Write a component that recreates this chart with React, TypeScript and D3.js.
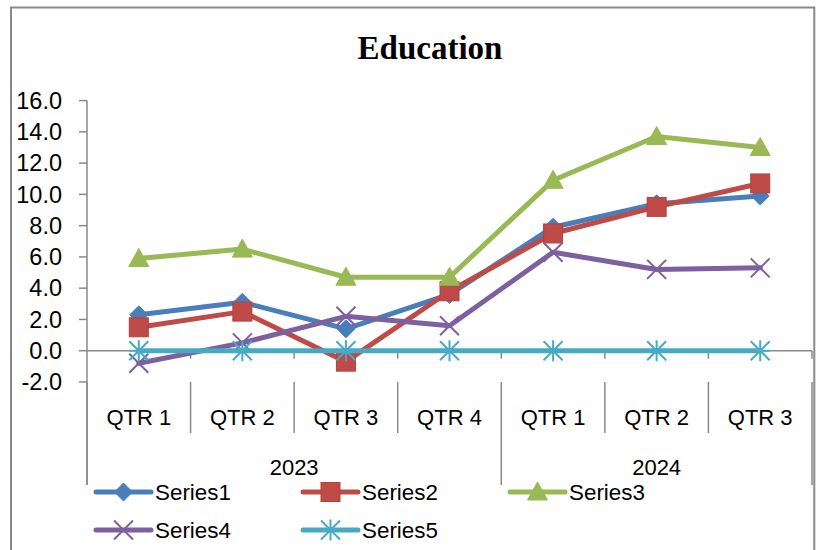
import React from "react";
import * as d3 from "d3";

const quarters = ["QTR 1", "QTR 2", "QTR 3", "QTR 4", "QTR 1", "QTR 2", "QTR 3"];
const years = ["2023", "2024"];
const yearSpans = [4, 3];
const yTicks = [-2, 0, 2, 4, 6, 8, 10, 12, 14, 16];

const series1 = [2.3, 3.1, 1.4, 3.6, 7.9, 9.4, 9.9];
const series2 = [1.5, 2.5, -0.7, 3.8, 7.5, 9.2, 10.7];
const series3 = [5.9, 6.5, 4.7, 4.7, 10.9, 13.7, 13.0];
const series4 = [-0.8, 0.5, 2.2, 1.6, 6.3, 5.2, 5.3];
const series5 = [0, 0, 0, 0, 0, 0, 0];

const seriesNames = ["Series1", "Series2", "Series3", "Series4", "Series5"];
const seriesData = [series1, series2, series3, series4, series5];
const colors = ["#4A7EBB", "#BE4B48", "#98B954", "#7D60A0", "#46AAC5"];
const markerTypes = ["diamond", "square", "triangle", "x", "star"];

const W = 817;
const H = 550;
const plotLeft = 87;
const plotRight = 812;
const axisGray = "#898989";
const FONT = "'Liberation Sans', Arial, sans-serif";

function Marker({ type, cx, cy, color }: { type: string; cx: number; cy: number; color: string }) {
  if (type === "diamond") {
    const r = 9;
    return <path d={`M${cx},${cy - r}L${cx + r},${cy}L${cx},${cy + r}L${cx - r},${cy}Z`} fill={color} stroke={color} strokeWidth={1} />;
  }
  if (type === "square") {
    const s = 9.5;
    return <rect x={cx - s} y={cy - s} width={2 * s} height={2 * s} fill={color} stroke="#B5413E" strokeWidth={1} />;
  }
  if (type === "triangle") {
    const hw = 10;
    return <path d={`M${cx},${cy - 10}L${cx + hw},${cy + 8}L${cx - hw},${cy + 8}Z`} fill={color} stroke={color} strokeWidth={1} />;
  }
  if (type === "x") {
    const r = 9.5;
    return (
      <path d={`M${cx - r},${cy - r}L${cx + r},${cy + r}M${cx - r},${cy + r}L${cx + r},${cy - r}`} stroke={color} strokeWidth={2} fill="none" />
    );
  }
  const r = 9.5;
  return (
    <path
      d={`M${cx - r},${cy - r}L${cx + r},${cy + r}M${cx - r},${cy + r}L${cx + r},${cy - r}M${cx},${cy - r * 1.1}L${cx},${cy + r * 1.1}M${cx - r},${cy}L${cx + r},${cy}`}
      stroke={color}
      strokeWidth={2}
      fill="none"
    />
  );
}

export default function App() {
  const idx = quarters.map((_, i) => String(i));
  const x = d3.scaleBand<string>().domain(idx).range([plotLeft, plotRight]).padding(0);
  const bw = x.bandwidth();
  const cx = (i: number) => (x(String(i)) as number) + bw / 2;
  const y = d3.scaleLinear().domain([-2, 16]).range([381.96, 100.6]);
  const line = d3
    .line<number>()
    .x((_, i) => cx(i))
    .y((d) => y(d));

  const boundaries = d3.range(quarters.length + 1).map((k) => plotLeft + k * bw);
  const groupStarts = [0];
  yearSpans.forEach((s, i) => groupStarts.push(groupStarts[i] + s));

  const legendItems = [
    { lx: 96, ly: 492 },
    { lx: 303, ly: 492 },
    { lx: 510, ly: 492 },
    { lx: 96, ly: 530 },
    { lx: 303, ly: 530 },
  ];

  return (
    <svg width={W} height={H} style={{ position: "absolute", left: 0, top: 0, background: "#fff" }}>
      <rect x={0} y={0} width={W} height={H} fill="#fff" />
      {/* chart border */}
      <path d={`M11,${H + 5}L11,7.5L814.3,7.5L814.3,${H + 5}`} fill="none" stroke={axisGray} strokeWidth={2} />

      {/* title */}
      <text x={430} y={59} textAnchor="middle" fontFamily="'Liberation Serif', 'Times New Roman', serif" fontWeight="bold" fontSize={33} fill="#000">
        Education
      </text>

      {/* y axis */}
      <line x1={plotLeft} x2={plotLeft} y1={y(16)} y2={485} stroke={axisGray} strokeWidth={1.5} />
      {yTicks.map((t) => (
        <g key={t}>
          <line x1={79} x2={plotLeft} y1={y(t)} y2={y(t)} stroke={axisGray} strokeWidth={1.5} />
          <text x={62} y={y(t) + 8.3} textAnchor="end" fontFamily={FONT} fontSize={23.5} fill="#000">
            {t.toFixed(1)}
          </text>
        </g>
      ))}

      {/* x axis at zero */}
      <line x1={plotLeft} x2={plotRight} y1={y(0)} y2={y(0)} stroke={axisGray} strokeWidth={1.5} />
      {boundaries.slice(1).map((bx, k) => (
        <line key={k} x1={bx} x2={bx} y1={y(0)} y2={y(0) + 8} stroke={axisGray} strokeWidth={1.5} />
      ))}

      {/* category label separators */}
      {boundaries.map((bx, k) => {
        const isGroup = groupStarts.includes(k);
        return <line key={k} x1={bx} x2={bx} y1={382} y2={isGroup ? 485 : 433} stroke={axisGray} strokeWidth={1.5} />;
      })}

      {quarters.map((q, i) => (
        <text key={i} x={cx(i)} y={425} textAnchor="middle" fontFamily={FONT} fontSize={22} fill="#000">
          {q}
        </text>
      ))}
      {years.map((yr, g) => {
        const start = boundaries[groupStarts[g]];
        const end = boundaries[groupStarts[g + 1]];
        return (
          <text key={yr} x={(start + end) / 2} y={475} textAnchor="middle" fontFamily={FONT} fontSize={22} fill="#000">
            {yr}
          </text>
        );
      })}

      {/* series */}
      {seriesData.map((data, s) => (
        <g key={s}>
          <path d={line(data) || ""} fill="none" stroke={colors[s]} strokeWidth={5} strokeLinejoin="round" strokeLinecap="round" />
          {data.map((v, i) => (
            <Marker key={i} type={markerTypes[s]} cx={cx(i)} cy={y(v)} color={colors[s]} />
          ))}
        </g>
      ))}

      {/* legend */}
      {legendItems.map((it, s) => (
        <g key={s}>
          <line x1={it.lx} x2={it.lx + 55} y1={it.ly} y2={it.ly} stroke={colors[s]} strokeWidth={5} strokeLinecap="round" />
          <Marker type={markerTypes[s]} cx={it.lx + 27.5} cy={it.ly} color={colors[s]} />
          <text x={it.lx + 59} y={it.ly + 8} fontFamily={FONT} fontSize={22.4} fill="#000">
            {seriesNames[s]}
          </text>
        </g>
      ))}
    </svg>
  );
}
